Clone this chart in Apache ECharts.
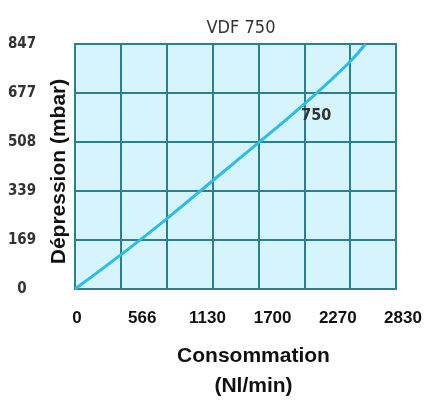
<!DOCTYPE html>
<html><head><meta charset="utf-8">
<script src="https://cdn.jsdelivr.net/npm/echarts@6/dist/echarts.min.js"></script>
<style>html,body{margin:0;padding:0;background:#fff}#c{width:426px;height:401px}</style>
</head><body><div id="c"></div>
<script>
const titleText = 'VDF 750';
const xTickLabels = [0, 566, 1130, 1700, 2270, 2830];
const yTickLabels = [0, 169, 339, 508, 677, 847];
const flowValues = [0, 400, 800, 1200, 1600, 2000, 2400, 2560];
const vacuumValues = [0, 117, 240, 370, 500, 632, 776, 847];
const seriesName = '750';
const seriesLabelPos = [2127, 600];

const xMax = 2830, yMax = 847;
const narrow = '"Liberation Sans Narrow","DejaVu Sans Condensed","Roboto Condensed",sans-serif';
const chart = echarts.init(document.getElementById('c'));
chart.setOption({
  animation: false,
  title: { text: titleText, left: 236, top: 14, textAlign: 'center',
    textStyle: { fontFamily: narrow, fontSize: 18, fontWeight: 'normal', color: '#333' } },
  grid: [
    { left: 75, right: 30, top: 44, bottom: 112, show: true, backgroundColor: '#d6f4fc', borderColor: '#2b7f8e', borderWidth: 2, containLabel: false, outerBoundsMode: 'none' },
    { left: 77, right: 23, top: 44, bottom: 112, show: false, containLabel: false, outerBoundsMode: 'none' }
  ],
  xAxis: [
    { type: 'value', gridIndex: 0, min: 0, max: xMax, interval: xMax / 7,
      axisLine: { show: false }, axisTick: { show: false }, axisLabel: { show: false },
      splitLine: { show: true, lineStyle: { color: '#2b7f8e', width: 2 } },
      name: 'Consommation\n(Nl/min)', nameLocation: 'middle', nameGap: 52, nameMoveOverlap: false,
      nameTextStyle: { fontFamily: 'Liberation Sans, Arial, sans-serif', fontSize: 21, fontWeight: 'bold', color: '#111', lineHeight: 30, padding: [0, 0, 0, 36] } },
    { type: 'value', gridIndex: 1, min: 0, max: xMax, interval: xMax / 5,
      axisLine: { show: false }, axisTick: { show: false }, splitLine: { show: false },
      axisLabel: { margin: 21, fontFamily: 'Liberation Sans, Arial, sans-serif', fontSize: 17, fontWeight: 'bold', color: '#111',
        formatter: (v, i) => String(xTickLabels[i]) } }
  ],
  yAxis: [
    { type: 'value', gridIndex: 0, min: 0, max: yMax, interval: yMax / 5,
      axisLine: { show: false }, axisTick: { show: false },
      splitLine: { show: true, lineStyle: { color: '#2b7f8e', width: 2 } },
      axisLabel: { margin: 53, align: 'center', fontFamily: narrow, fontSize: 15, fontWeight: 'bold', color: '#333',
        formatter: (v, i) => String(yTickLabels[i]) },
      name: 'Dépression (mbar)', nameLocation: 'middle', nameGap: 5, nameMoveOverlap: false,
      nameTextStyle: { fontFamily: 'Liberation Sans, Arial, sans-serif', fontSize: 21, fontWeight: 'bold', color: '#111', padding: [0, 10, 0, 0] } },
    { type: 'value', gridIndex: 1, min: 0, max: yMax, show: false }
  ],
  series: [{
    type: 'line', name: seriesName, xAxisIndex: 0, yAxisIndex: 0,
    data: flowValues.map((x, i) => [x, vacuumValues[i]]),
    smooth: true, symbol: 'none',
    lineStyle: { color: '#2bbde6', width: 3 },
    markPoint: { symbolSize: 0, data: [{ coord: seriesLabelPos, value: seriesName }],
      label: { show: true, formatter: seriesName, fontFamily: narrow, fontSize: 16, fontWeight: 'bold', color: '#333' } }
  }]
});
</script></body></html>
